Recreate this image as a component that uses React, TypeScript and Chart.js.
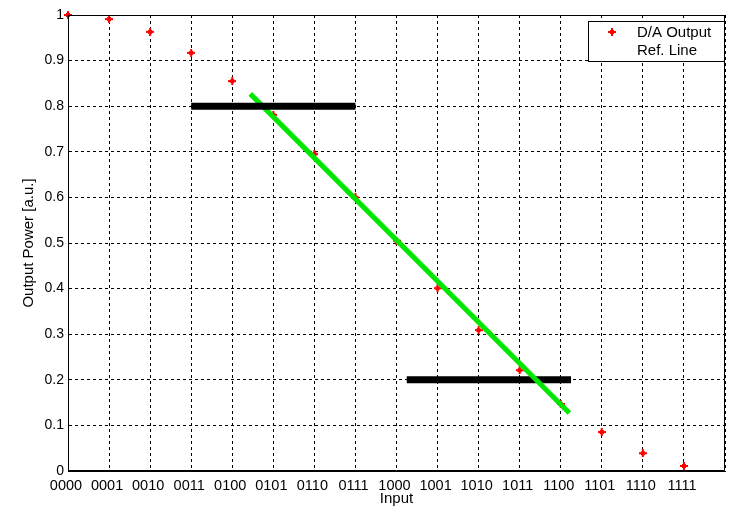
import React, { useEffect, useRef } from "react";
import { Chart, registerables } from "chart.js";

Chart.register(...registerables);

// 4-bit input codes on the x axis
const inputCodes = [
  "0000", "0001", "0010", "0011", "0100", "0101", "0110", "0111",
  "1000", "1001", "1010", "1011", "1100", "1101", "1110", "1111",
];

// Measured D/A output power for each input code
const outputPower = [
  1.0, 0.991, 0.963, 0.917, 0.855, 0.781, 0.695, 0.6,
  0.505, 0.401, 0.309, 0.221, 0.147, 0.0855, 0.039, 0.011,
];

// Linear reference line (end points)
const refLineX = [4.44, 12.21];
const refLineY = [0.827, 0.127];

// Horizontal level markers
const upperBarX = [3, 7];
const upperBarY = 0.8;
const lowerBarX = [8.25, 12.25];
const lowerBarY = 0.2;

const yTicks = [0, 0.1, 0.2, 0.3, 0.4, 0.5, 0.6, 0.7, 0.8, 0.9, 1];

const FONT = "'Liberation Sans', Arial, Helvetica, sans-serif";

function makeMarker(): HTMLCanvasElement {
  const c = document.createElement("canvas");
  c.width = 8;
  c.height = 8;
  const g = c.getContext("2d")!;
  g.fillStyle = "#ff0000";
  g.fillRect(0, 3, 8, 2);
  g.fillRect(3, 0, 2, 8);
  g.fillRect(2, 2, 4, 4);
  return c;
}

export default function App() {
  const ref = useRef<HTMLCanvasElement | null>(null);

  useEffect(() => {
    document.body.style.margin = "0";
    const canvas = ref.current!;
    const marker = makeMarker();

    const frame = {
      id: "frame",
      afterDatasetsDraw(chart: any) {
        const { ctx, chartArea: a } = chart;
        ctx.save();
        // axes box
        ctx.strokeStyle = "#000";
        ctx.lineWidth = 1;
        ctx.beginPath();
        ctx.moveTo(a.left + 0.5, a.top + 0.5);
        ctx.lineTo(a.right - 0.5, a.top + 0.5);
        ctx.lineTo(a.right - 0.5, a.bottom - 0.5);
        ctx.lineTo(a.left + 0.5, a.bottom - 0.5);
        ctx.closePath();
        ctx.stroke();

        // axis titles
        ctx.fillStyle = "#000";
        ctx.font = `15px ${FONT}`;
        ctx.textAlign = "center";
        ctx.textBaseline = "alphabetic";
        ctx.fillText("Input", (a.left + a.right) / 2, 503);
        ctx.save();
        ctx.translate(33, (a.top + a.bottom) / 2);
        ctx.rotate(-Math.PI / 2);
        ctx.fillText("Output Power [a.u.]", 0, 0);
        ctx.restore();

        // legend
        const lx = 588, ly = 21, lw = a.right - 588, lh = 41;
        ctx.fillStyle = "#fff";
        ctx.fillRect(lx, ly, lw, lh);
        ctx.strokeRect(lx + 0.5, ly + 0.5, lw - 1, lh - 1);
        ctx.drawImage(marker, 612 - 4, 32 - 4);
        ctx.fillStyle = "#000";
        ctx.textAlign = "left";
        ctx.fillText("D/A Output", 637, 37);
        ctx.fillText("Ref. Line", 637, 55);
        ctx.restore();
      },
    };

    const chart = new Chart(canvas, {
      type: "scatter",
      data: {
        datasets: [
          {
            label: "D/A Output",
            data: outputPower.map((v, i) => ({ x: i, y: v })),
            pointStyle: marker as any,
            pointRadius: 4,
            showLine: false,
            clip: false as any,
            order: 4,
          },
          {
            label: "lower level",
            data: lowerBarX.map((x) => ({ x, y: lowerBarY })),
            showLine: true,
            borderColor: "#000",
            borderWidth: 7,
            borderCapStyle: "butt",
            pointRadius: 0,
            order: 3,
          },
          {
            label: "Ref. Line",
            data: refLineX.map((x, i) => ({ x, y: refLineY[i] })),
            showLine: true,
            borderColor: "rgb(0,230,0)",
            borderWidth: 5,
            borderCapStyle: "butt",
            pointRadius: 0,
            order: 2,
          },
          {
            label: "upper level",
            data: upperBarX.map((x) => ({ x, y: upperBarY })),
            showLine: true,
            borderColor: "#000",
            borderWidth: 7,
            borderCapStyle: "butt",
            pointRadius: 0,
            order: 1,
          },
        ],
      },
      options: {
        responsive: false,
        animation: false,
        layout: { padding: { top: 15, right: 4, left: 0, bottom: 0 } },
        plugins: {
          legend: { display: false },
          tooltip: { enabled: false },
        },
        scales: {
          x: {
            type: "linear",
            min: 0,
            max: 16,
            afterFit(scale: any) {
              scale.height = 39;
            },
            afterBuildTicks(scale: any) {
              scale.ticks = inputCodes.map((_, i) => ({ value: i })).concat([{ value: 16 }]);
            },
            ticks: {
              autoSkip: false,
              maxRotation: 0,
              padding: 6,
              labelOffset: -2,
              color: "#000",
              font: { family: FONT, size: 14.5 },
              callback: (v: any) => (v < inputCodes.length ? inputCodes[v] : ""),
            },
            grid: {
              color: "#000",
              lineWidth: 1,
              drawTicks: false,
            },
            border: { display: true, color: "#000", dash: [3, 3] } as any,
          },
          y: {
            type: "linear",
            min: 0,
            max: 1,
            afterFit(scale: any) {
              scale.width = 68;
            },
            afterBuildTicks(scale: any) {
              scale.ticks = yTicks.map((v) => ({ value: v }));
            },
            ticks: {
              padding: 4,
              color: "#000",
              font: { family: FONT, size: 14 },
              callback: (v: any) => String(Math.round(v * 10) / 10),
            },
            grid: {
              color: "#000",
              lineWidth: 1,
              drawTicks: false,
            },
            border: { display: true, color: "#000", dash: [3, 3] } as any,
          },
        },
      },
      plugins: [frame],
    });

    return () => chart.destroy();
  }, []);

  return (
    <div style={{ position: "absolute", left: 0, top: 0, width: 731, height: 510, background: "#fff" }}>
      <canvas ref={ref} width={731} height={510} />
    </div>
  );
}
